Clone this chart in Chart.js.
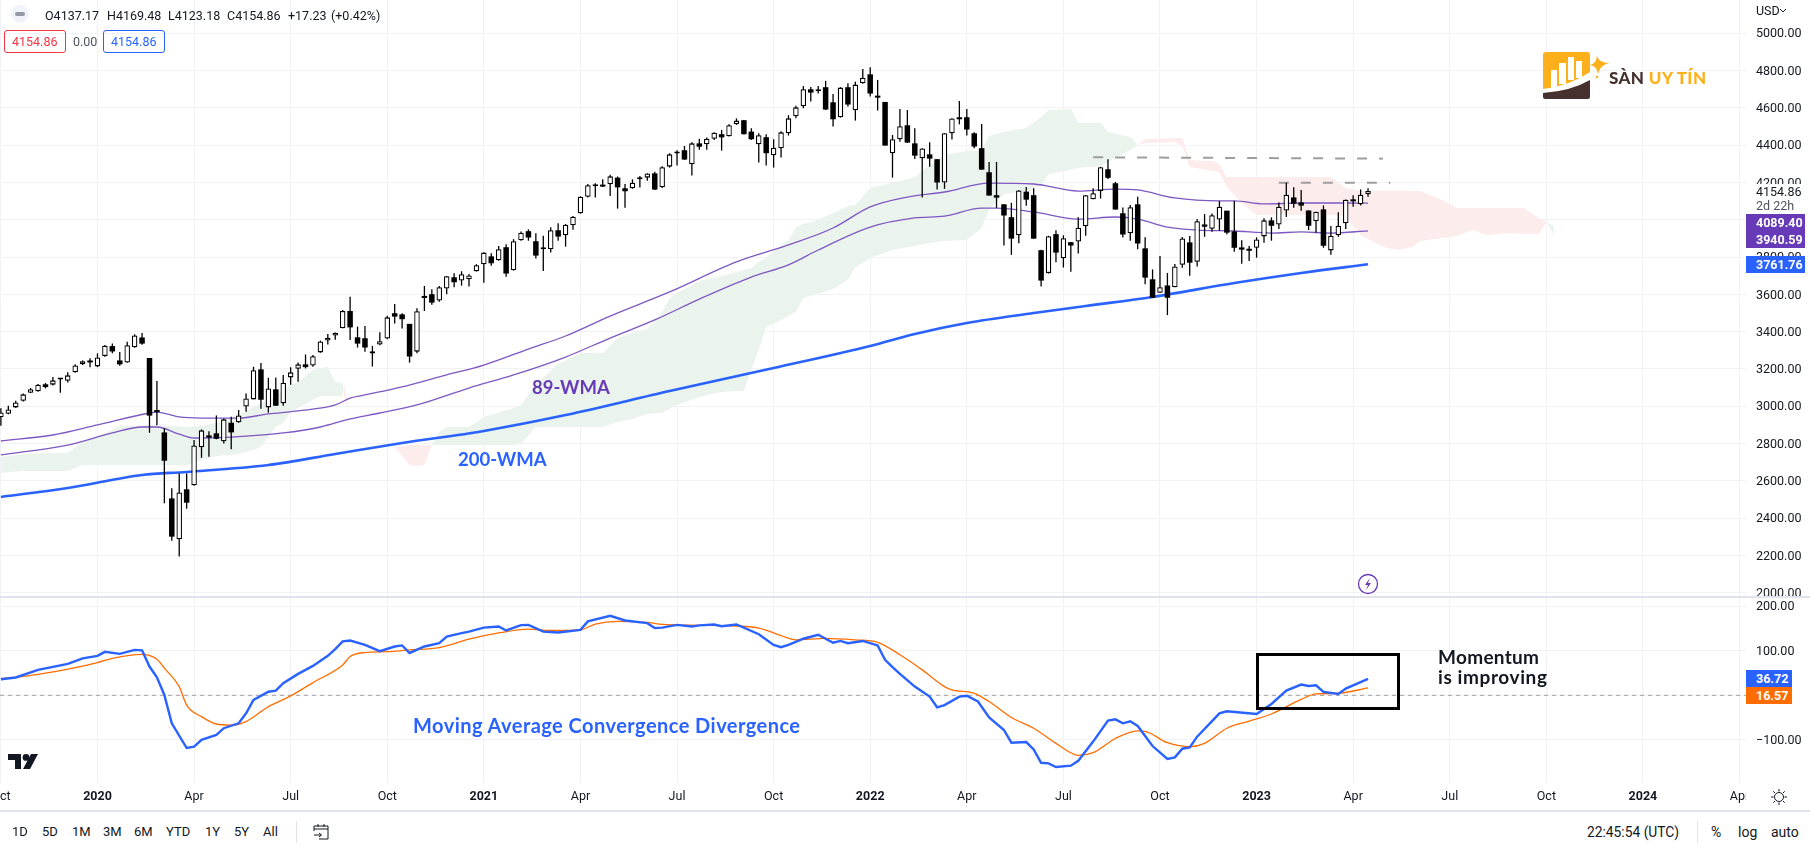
<!DOCTYPE html>
<html lang="en">
<head>
<meta charset="UTF-8" />
<title>S&amp;P 500 weekly</title>
<script src="https://cdn.jsdelivr.net/npm/chart.js"></script>
<style>
  html, body { margin: 0; padding: 0; background: #fff; overflow: hidden; }
  body { width: 1813px; height: 849px; position: relative; font-family: Roboto, sans-serif; color: #131722; }
  canvas { position: absolute; left: 0; display: block; }
  #priceChart { top: 0; }
  #macdChart { top: 597px; }
  .t { position: absolute; font-size: 12.5px; line-height: 16px; white-space: nowrap; }
  .bar { font-size: 13px; }
  .box { position: absolute; box-sizing: border-box; }
  .ann { position: absolute; font-family: Lato, sans-serif; font-weight: 700; white-space: nowrap; line-height: 22px; }
  .tag { position: absolute; left: 1746px; color: #fff; font-weight: 700; font-size: 12.5px; text-align: left; padding-left: 10px; box-sizing: border-box; }
  svg { position: absolute; }
</style>
</head>
<body>
<canvas id="priceChart" width="1813" height="597"></canvas>
<canvas id="macdChart" width="1813" height="214"></canvas>

<!-- legend row -->
<div class="box" style="left:11px;top:5px;width:18px;height:18px;border-radius:9px;background:#f0f3fa"></div>
<div class="box" style="left:15px;top:12px;width:10px;height:4px;border-radius:2px;background:#9598a1"></div>
<div class="t" style="left:45px;top:8px">O4137.17</div>
<div class="t" style="left:107px;top:8px">H4169.48</div>
<div class="t" style="left:168px;top:8px">L4123.18</div>
<div class="t" style="left:227px;top:8px">C4154.86</div>
<div class="t" style="left:288px;top:8px">+17.23</div>
<div class="t" style="left:331px;top:8px">(+0.42%)</div>
<div class="box" style="left:4px;top:30px;width:62px;height:23px;border:1px solid #f23645;border-radius:3px"></div>
<div class="t" style="left:12px;top:34px;color:#f23645">4154.86</div>
<div class="t" style="left:73px;top:34px;color:#50535e">0.00</div>
<div class="box" style="left:103px;top:30px;width:62px;height:23px;border:1px solid #2962ff;border-radius:3px"></div>
<div class="t" style="left:111px;top:34px;color:#2962ff">4154.86</div>

<!-- logo -->
<svg style="left:1543px;top:50px" width="70" height="52" viewBox="0 0 70 52">
  <path d="M3 2H44a3 3 0 0 1 3 3V22Q26 36 0 39V5a3 3 0 0 1 3-3Z" fill="#fdb01b"/>
  <path d="M0 43Q28 41 47 30V47a2 2 0 0 1-2 2H2a2 2 0 0 1-2-2Z" fill="#47312f"/>
  <rect x="8" y="20" width="6" height="18" fill="#fff"/>
  <rect x="16" y="13" width="7" height="21" fill="#fff"/>
  <rect x="25" y="7" width="6" height="23" fill="#fff"/>
  <rect x="33" y="11" width="6" height="17" fill="#fff"/>
  <path d="M54 6Q56 13 66 13Q57 15 55 24Q54 16 47 15Q53 14 54 6Z" fill="#fdb01b"/>
  <circle cx="54" cy="27" r="1.3" fill="#fdb01b"/>
</svg>
<div class="t" style="left:1609px;top:69px;font-family:Lato,sans-serif;font-weight:900;font-size:17px;line-height:18px;color:#47312f;letter-spacing:.4px">SÀN <span style="color:#fdb01b">UY TÍN</span></div>

<!-- annotations -->
<div class="ann" style="left:532px;top:376px;font-size:18.500px;color:#673ab7">89-WMA</div>
<div class="ann" style="left:458px;top:448px;font-size:18.500px;color:#2962ff">200-WMA</div>
<div class="ann" style="left:413px;top:714px;font-size:20px;letter-spacing:.45px;color:#2962ff">Moving Average Convergence Divergence</div>
<div class="ann" style="left:1438px;top:646px;font-size:19px;letter-spacing:.3px;color:#131722">Momentum</div>
<div class="ann" style="left:1438px;top:666px;font-size:19px;letter-spacing:.6px;color:#131722">is improving</div>
<div class="box" style="left:1256px;top:653px;width:144px;height:57px;border:3px solid #000"></div>

<!-- lightning marker -->
<svg style="left:1357px;top:573px" width="22" height="22" viewBox="0 0 22 22">
  <circle cx="11" cy="11" r="9.5" fill="#fff" stroke="#673ab7" stroke-width="1.3"/>
  <path d="M13 5L8 12H11L9 17L14 10H11Z" fill="#673ab7"/>
</svg>

<!-- tradingview mark -->
<svg style="left:8px;top:754px" width="30" height="15" viewBox="0 0 30 15">
  <path d="M0 0H13V15H7V6H0Z" fill="#131722"/>
  <circle cx="18" cy="3.4" r="3.4" fill="#131722"/>
  <path d="M23 0H30L22 15H15Z" fill="#131722"/>
</svg>

<!-- price scale overlays -->
<div class="t" style="left:1756px;top:3px">USD</div>
<svg style="left:1779px;top:8px" width="8" height="6" viewBox="0 0 8 6"><path d="M1 1L4 4L7 1" fill="none" stroke="#131722"/></svg>
<div class="box" style="left:1746px;top:184px;width:59px;height:30px;background:#fff"></div>
<div class="t" style="left:1756px;top:184px">4154.86</div>
<div class="t" style="left:1756px;top:198px;color:#50535e">2d 22h</div>
<div class="box" style="left:1746px;top:214px;width:59px;height:34px;background:#673ab7"></div>
<div class="tag" style="top:215px;line-height:16px">4089.40</div>
<div class="tag" style="top:232px;line-height:16px">3940.59</div>
<div class="tag" style="top:256px;width:59px;height:17px;line-height:17px;background:#2962ff">3761.76</div>
<div class="tag" style="top:670px;width:46px;height:17px;line-height:17px;background:#2962ff;padding-left:10px">36.72</div>
<div class="tag" style="top:687px;width:46px;height:17px;line-height:17px;background:#ff6d00;padding-left:10px">16.57</div>

<!-- pane separators -->
<div class="box" style="left:0;top:596px;width:1810px;height:2px;background:#e0e3eb"></div>
<div class="box" style="left:1746px;top:783px;width:67px;height:27px;background:#fff"></div>
<svg style="left:1771px;top:789px" width="16" height="16" viewBox="0 0 16 16">
  <circle cx="8" cy="8" r="4.5" fill="none" stroke="#131722"/>
  <path d="M8 0V2.5M8 13.500V16M0 8H2.500M13.500 8H16M2.300 2.300L4 4M12 12L13.700 13.700M2.300 13.700L4 12M12 4L13.700 2.300" stroke="#131722"/>
</svg>
<div class="box" style="left:0;top:810px;width:1810px;height:2px;background:#e0e3eb"></div>

<!-- bottom toolbar -->
<div class="t bar" style="left:12px;top:824px">1D</div>
<div class="t bar" style="left:42px;top:824px">5D</div>
<div class="t bar" style="left:72px;top:824px">1M</div>
<div class="t bar" style="left:103px;top:824px">3M</div>
<div class="t bar" style="left:134px;top:824px">6M</div>
<div class="t bar" style="left:166px;top:824px">YTD</div>
<div class="t bar" style="left:205px;top:824px">1Y</div>
<div class="t bar" style="left:234px;top:824px">5Y</div>
<div class="t bar" style="left:263px;top:824px">All</div>
<div class="box" style="left:296px;top:821px;width:1px;height:22px;background:#e0e3eb"></div>
<svg style="left:313px;top:823px" width="17" height="18" viewBox="0 0 17 18">
  <path d="M1 8V3H15V16H6M1 6H15M5 1V4M11 1V4M1 12H8M6 10L8.500 12L6 14" fill="none" stroke="#131722"/>
</svg>
<div class="t" style="left:1587px;top:824px;font-size:13.800px">22:45:54 (UTC)</div>
<div class="box" style="left:1697px;top:821px;width:1px;height:22px;background:#e0e3eb"></div>
<div class="t" style="left:1711px;top:824px;font-size:14px">%</div>
<div class="t" style="left:1738px;top:824px;font-size:14px">log</div>
<div class="t" style="left:1771px;top:824px;font-size:14px">auto</div>

<script>
// weekly candles, first one sits on the Oct 2019 grid line (week 0 = first week of 2020)
const firstWeek = -13;
const opens = [2941,2960,2994,3030,3073,3080,3118,3116,3144,3137,
  3182,3225,3239,3214,3269,3323,3246,3235,3316,3369,
  3259,2973,2860,2506,2287,2555,2576,2780,2844,2855,
  2812,2912,2914,2999,3037,3198,2994,3091,3016,3155,
  3201,3225,3219,3289,3353,3380,3418,3511,3370,3365,
  3283,3331,3363,3499,3493,3442,3293,3585,3601,3567,
  3631,3692,3674,3681,3724,3762,3804,3783,3853,3729,
  3890,3939,3885,3842,3842,3944,3917,3971,4035,4124,
  4180,4185,4191,4226,4169,4169,4217,4226,4249,4174,
  4285,4355,4373,4298,4410,4405,4435,4459,4448,4512,
  4534,4473,4405,4443,4346,4384,4464,4555,4609,4700,
  4689,4711,4630,4550,4711,4587,4732,4780,4662,4632,
  4357,4432,4507,4410,4330,4351,4325,4200,4464,4544,
  4550,4464,4384,4255,4132,4083,4014,3917,4151,4132,
  3837,3714,3923,3794,3880,3883,3965,4110,4155,4271,
  4196,4035,3928,4083,3847,3681,3609,3648,3638,3759,
  3879,3775,3975,3952,4002,4049,3938,3852,3841,3850,
  3911,3997,3975,4050,4120,4093,4050,3992,4056,3836,
  3917,3981,4104,4083,4137.17];
const closes = [2967,2983,3021,3064,3091,3116,3103,3139,3147,3166,
  3219,3241,3235,3262,3325,3294,3225,3327,3380,3336,
  2950,2969,2708,2301,2538,2483,2790,2871,2832,2826,
  2930,2860,2951,3042,3193,3035,3096,3003,3126,3182,
  3225,3210,3268,3348,3368,3394,3511,3423,3336,3315,
  3295,3349,3477,3481,3467,3267,3510,3581,3556,3638,
  3697,3665,3708,3701,3756,3824,3767,3842,3712,3885,
  3931,3905,3808,3844,3944,3910,3974,4017,4124,4185,
  4182,4178,4233,4174,4153,4199,4226,4248,4162,4282,
  4351,4366,4323,4410,4392,4435,4467,4442,4507,4532,
  4459,4432,4453,4357,4387,4469,4544,4603,4700,4682,
  4700,4591,4539,4709,4618,4725,4762,4677,4655,4398,
  4432,4502,4414,4344,4382,4328,4200,4464,4543,4539,
  4484,4393,4269,4130,4119,4023,3899,4157,4108,3899,
  3674,3912,3824,3901,3862,3958,4132,4142,4282,4225,
  4055,3921,4067,3873,3690,3582,3638,3582,3750,3900,
  3770,3992,3963,4024,4070,3931,3850,3840,3834,3895,
  3997,3968,4070,4134,4086,4076,3968,4043,3861,3915,
  3968,4108,4099,4134,4154.86];
const highs = [2989,3003,3030,3069,3098,3119,3125,3157,3150,3182,
  3225,3246,3257,3284,3328,3337,3291,3346,3386,3393,
  3259,3135,2882,2560,2640,2640,2819,2876,2866,2951,
  2935,2944,2980,3069,3212,3232,3153,3155,3168,3209,
  3235,3278,3275,3352,3387,3396,3516,3588,3427,3431,
  3324,3397,3485,3549,3499,3442,3526,3645,3628,3645,
  3699,3713,3724,3710,3762,3826,3821,3860,3869,3896,
  3937,3949,3928,3914,3960,3981,3978,4021,4126,4192,
  4196,4217,4241,4232,4192,4217,4235,4249,4257,4287,
  4357,4373,4396,4416,4434,4441,4469,4482,4512,4544,
  4535,4491,4464,4459,4432,4475,4561,4611,4718,4712,
  4718,4745,4675,4711,4732,4741,4809,4818,4750,4632,
  4455,4594,4589,4491,4384,4416,4326,4464,4544,4637,
  4594,4469,4514,4310,4310,4083,4091,4160,4176,4169,
  3839,3914,3944,3917,3881,4014,4133,4169,4284,4325,
  4203,4066,4080,4123,3906,3734,3806,3715,3763,3908,
  3913,4004,4031,4034,4101,4049,4101,3891,3859,3906,
  4008,4013,4093,4199,4174,4160,4050,4043,4077,3967,
  4040,4109,4131,4163,4169.48];
const lows = [2896,2958,2991,3026,3071,3078,3096,3112,3073,3128,
  3180,3221,3210,3210,3266,3284,3218,3234,3314,3330,
  2858,2899,2480,2279,2194,2451,2574,2724,2730,2823,
  2801,2769,2912,2971,3037,2987,2966,3003,3003,3116,
  3132,3203,3212,3287,3332,3357,3418,3356,3315,3293,
  3213,3327,3360,3444,3417,3234,3284,3511,3544,3561,
  3601,3638,3647,3642,3722,3663,3754,3781,3695,3728,
  3888,3888,3792,3726,3824,3888,3856,3946,4033,4119,
  4119,4176,4128,4060,4065,4167,4173,4210,4160,4171,
  4280,4291,4321,4237,4375,4375,4428,4371,4446,4509,
  4457,4428,4307,4291,4280,4334,4452,4544,4598,4634,
  4677,4589,4500,4548,4607,4532,4730,4661,4586,4398,
  4226,4418,4412,4326,4119,4285,4162,4166,4430,4512,
  4452,4384,4269,4130,4064,3862,3812,3874,4076,3898,
  3642,3712,3772,3744,3722,3819,3915,4110,4114,4219,
  4055,3905,3887,3842,3654,3581,3609,3489,3638,3743,
  3700,3749,3909,3936,3941,3922,3829,3765,3779,3797,
  3877,3888,3950,4015,4065,4049,3945,3931,3850,3813,
  3909,3950,4070,4077,4123.18];

// weighted moving averages
const wmaUpperWeeks = [-13,-6,0,7,8,11,14,19,23,27,32,34,36,41,47,52,58,63,69,77,86,93,99,104,109,114,120,126,132,137,140,145,151,153,157,162,166,171];
const wmaUpper = [2814,2846,2900,2964,2969,2943,2937,2937,2959,2975,3007,3044,3061,3104,3168,3221,3307,3377,3484,3613,3774,3865,3956,4069,4122,4149,4197,4192,4154,4165,4160,4117,4101,4101,4085,4090,4090,4089.4];
const wmaLowerWeeks = [-13,-4,2,6,8,11,13,18,25,30,34,38,43,50,56,63,69,75,81,88,93,97,104,110,114,119,121,126,132,137,140,144,148,153,158,162,166,171];
const wmaLower = [2739,2792,2857,2889,2889,2851,2830,2835,2857,2889,2932,2964,3007,3098,3168,3264,3366,3463,3575,3693,3758,3838,3961,4010,4020,4063,4063,4042,4004,4015,4004,3961,3945,3940,3929,3935,3929,3940.59];
const wma200Weeks = [-13,-4,6,12,23,32,41,52,63,77,91,104,110,117,126,133,142,153,162,171];
const wma200 = [2514,2562,2632,2648,2685,2744,2803,2868,2953,3082,3205,3323,3388,3447,3500,3538,3586,3661,3715,3761.76];

// ichimoku cloud, green where spanA is above spanB, red where below
const cloudWeeks = [-13,-10,-7,-4,-2,2,3,7,12,14,16,18,19,21,22,23,24,25,26,27,29,30,31,32,33,33.2,34,35,
  40,42,43,44,45,46,47,50,52,56,57,59,62,65,68,70,72,74,76,77,78,81,84,87,88,89,90,92,93,94,95,97,99,101,102,104,107,110,112,114,117,119,120,122,125,127,128,131,132,135,136,139,
  140,141,145,146,147,150,151,152,154,156,166,168,170,173,175,177,178,181,183,185,187,190,192,194,195,196];
const spanA = [2728,2744,2750,2750,2808,2873,2894,2900,2889,2894,2910,2943,2953,2996,3018,3034,3050,3087,3114,3130,3195,3205,3211,3130,3125,3055,2943,null,
  2782,2685,2680,2685,2792,2862,2889,2889,2943,2991,3007,3120,3227,3286,3286,3366,3393,3414,3506,3581,3608,3672,3699,3731,3742,3774,3795,3865,3892,3961,3977,3999,4036,4074,4079,4171,4197,4230,4294,4347,4369,4374,4449,4471,4492,4551,4589,4594,4519,4519,4471,4444,
  4401,4412,4417,4396,4283,4262,4256,4176,4090,4026,4026,4020,3918,3854,3838,3854,3886,3902,3913,3945,3918,3929,3924,3924,3988,3967];
const spanB = [2642,2653,2653,2653,2685,2685,2685,2685,2685,2712,2733,2739,2744,2766,2782,2835,2889,2910,2969,2991,3034,3055,3055,3055,3055,3125,2943,null,
  2782,2792,2792,2792,2792,2792,2792,2792,2792,2792,2798,2889,2889,2889,2889,2916,2932,2959,2964,2986,3007,3050,3077,3082,3195,3302,3425,3463,3484,3506,3581,3602,3629,3677,3744,3795,3838,3860,3876,3886,3892,3956,4053,4138,4154,4181,4246,4267,4278,4288,4310,4374,
  4401,4433,4439,4439,4321,4315,4299,4230,4230,4230,4230,4171,4154,4154,4154,4154,4154,4106,4063,4063,4063,4063,4063,4010,3988,3918];

// dashed resistance lines
const resistanceHighWeeks = [134,173];
const resistanceHigh = [4335,4328];
const resistanceLowWeeks = [159,174];
const resistanceLow = [4199,4199];

// macd pane
const macdWeeks = [-13,-11,-8,-4,-2,0,1,3,5,6,7,8,9,10,12,13,14,16,17,19,20,21,23,24,25,27,29,31,32,33,34,36,38,40,41,42,44,46,47,49,50,52,54,55,57,58,60,62,65,66,69,71,74,75,76,78,80,81,83,84,86,89,91,92,93,95,97,99,100,101,103,105,106,107,108,110,112,113,114,116,117,118.5,120,122,123,125,126,127,128,129,131,132,134,136,137,138,139,140,142,144,145,146,147,148,151,152,156,158,160,162,163,164,165,167,168,171];
const macdValues = [36,40,57,70.5,83,88.5,97.5,93,102,101,64.5,40.5,0.75,-63,-118.5,-115.5,-100,-89,-74,-63,-40.5,-10.5,8,10.5,27,48,66,88.5,103.5,121,123,113,99,109.5,112,95,109.5,117,132,139.5,143,152,154.5,145.5,157.5,158,143,141,147,166,178.5,168,162,151,152,158,154.5,157,159,155,159,137,113,108,113,127,136,118,122,117,122,112,79.5,63,48,19.5,-3,-27,-22,-3,-1,-14,-50,-78,-106.5,-105,-121.5,-151.5,-153,-161,-158,-147,-104,-57,-54,-63,-58.5,-69,-114,-143,-139.5,-120,-117,-93,-40.5,-36,-42,-19.5,10.5,24,21,22.5,7.5,3,15,36.72];
const signalWeeks = [-13,-11,-8,-4,0,2,6,8,9,11,12,14,16,18,20,23,26,29,33,34,36,39,42,46,50,54,58,61,65,67,70,74,76,81,85,89,92,94,98,102,105,108,111,114,115,118,120,123,126,129,131,132,134,137,140,141,144,147,149,152,155,158,162,164,167,171];
const signalValues = [38,40,47,58.5,73.5,83,92,81,61,19.5,-22,-48,-64.5,-67,-59,-25.5,-1.5,28.5,68,87,96,98,102,107,126,140,148.5,145.5,147,160,166,163.5,159,157,156,151,134,124.5,128,124.5,119,91,57,19.5,12,4.5,-14,-50,-74,-108,-129,-135,-129,-97,-80,-81,-106.5,-115.5,-108,-74,-58,-42,-9,3,4.5,16.57];

// axis ticks
const timeTickWeeks = [-13,0,13,26,39,52,65,78,91,104,117,130,143,156,169,182,195,208,221];
const timeTickLabels = ['Oct','2020','Apr','Jul','Oct','2021','Apr','Jul','Oct','2022','Apr','Jul','Oct','2023','Apr','Jul','Oct','2024','Apr'];
const priceTicks = [2000,2200,2400,2600,2800,3000,3200,3400,3600,3800,4000,4200,4400,4600,4800,5000];
const macdTicks = [-100,0,100,200];

const gridColor = '#f0f2f6';
const labelFont = { family: 'Roboto', size: 12.5 };
const weekMin = -13.12, weekMax = 221.87;
const smooth = { cubicInterpolationMode: 'monotone' };

const toPoints = (xs, ys) => xs.map((x, i) => ({ x: x, y: ys[i] }));
const candleWeek = i => firstWeek + i;

function lineDs(xs, ys, color, width, order, extra) {
  return Object.assign({ type: 'line', data: toPoints(xs, ys), borderColor: color, borderWidth: width,
    pointRadius: 0, tension: 0, fill: false, order: order }, extra || {});
}

function barDs(points, bg, border, borderW, thick, order) {
  return { type: 'bar', data: points, backgroundColor: bg, borderColor: border, borderWidth: borderW,
    barThickness: thick, borderSkipped: false, grouped: false, minBarLength: 2, inflateAmount: 0, order: order };
}

const wickPoints = lows.map((l, i) => ({ x: candleWeek(i), y: [l, highs[i]] }));
const upPoints = [], downPoints = [];
opens.forEach((o, i) => {
  const p = { x: candleWeek(i), y: [Math.min(o, closes[i]), Math.max(o, closes[i])] };
  if (closes[i] >= o) upPoints.push(p); else downPoints.push(p);
});

function timeScale(showLabels, height) {
  return {
    type: 'linear', bounds: 'data', min: weekMin, max: weekMax, offset: false,
    afterBuildTicks: s => { s.ticks = timeTickWeeks.map(v => ({ value: v })); },
    afterFit: s => { s.height = height; s.paddingLeft = 0; s.paddingRight = 0; },
    grid: { color: gridColor, drawTicks: false, offset: false },
    border: { display: false },
    ticks: {
      display: showLabels, autoSkip: false, maxRotation: 0, padding: 6.5, color: '#131722',
      callback: v => timeTickLabels[timeTickWeeks.indexOf(v)],
      font: c => ({ family: 'Roboto', size: 12.5,
        weight: c.tick && timeTickLabels[timeTickWeeks.indexOf(c.tick.value)].length == 4 ? '700' : '400' })
    }
  };
}

function valueScale(min, max, tickList, fmt) {
  return {
    position: 'right', bounds: 'data', min: min, max: max,
    afterBuildTicks: s => { s.ticks = tickList.map(v => ({ value: v })); },
    afterFit: s => { s.width = 67; s.paddingTop = 0; s.paddingBottom = 0; },
    grid: { color: gridColor, drawTicks: false },
    border: { display: false },
    ticks: { autoSkip: false, padding: 10, labelOffset: 1, color: '#131722', font: labelFont, callback: fmt }
  };
}

const commonOptions = {
  responsive: false, animation: false, events: [],
  layout: { padding: 0 },
  plugins: { legend: { display: false }, tooltip: { enabled: false } }
};

new Chart(document.getElementById('priceChart'), {
  type: 'bar',
  data: {
    datasets: [
      lineDs(cloudWeeks, spanA, 'rgba(0,0,0,0)', 0, 6, { fill: { target: '+1', above: '#ebf3ed', below: '#fdecec' } }),
      lineDs(cloudWeeks, spanB, 'rgba(0,0,0,0)', 0, 6),
      lineDs(wmaUpperWeeks, wmaUpper, '#7e57c2', 1.3, 4, smooth),
      lineDs(wmaLowerWeeks, wmaLower, '#7e57c2', 1.3, 4, smooth),
      lineDs(wma200Weeks, wma200, '#2962ff', 2.6, 4, smooth),
      lineDs(resistanceHighWeeks, resistanceHigh, '#9e9e9e', 2, 5, { borderDash: [10, 12] }),
      lineDs(resistanceLowWeeks, resistanceLow, '#9e9e9e', 2, 5, { borderDash: [10, 12] }),
      barDs(wickPoints, '#000', '#000', 0, 1.3, 3),
      barDs(upPoints, '#fff', '#000', 1.3, 5.5, 1),
      barDs(downPoints, '#000', '#000', 0, 5.5, 1)
    ]
  },
  options: Object.assign({}, commonOptions, {
    scales: {
      x: timeScale(false, 0),
      y: valueScale(1977.4, 5178.6, priceTicks, v => v.toFixed(2))
    }
  })
});

new Chart(document.getElementById('macdChart'), {
  type: 'line',
  data: {
    datasets: [
      lineDs([weekMin, weekMax], [0, 0], '#9e9e9e', 1, 3, { borderDash: [4, 4] }),
      lineDs(signalWeeks, signalValues, '#ff6d00', 1.3, 2, smooth),
      lineDs(macdWeeks, macdValues, '#2962ff', 2.4, 1)
    ]
  },
  options: Object.assign({}, commonOptions, {
    scales: {
      x: timeScale(true, 28),
      y: valueScale(-197, 220.7, macdTicks, v => (v < 0 ? '\u2212' + (-v).toFixed(2) : v.toFixed(2)))
    }
  })
});
</script>
</body>
</html>
